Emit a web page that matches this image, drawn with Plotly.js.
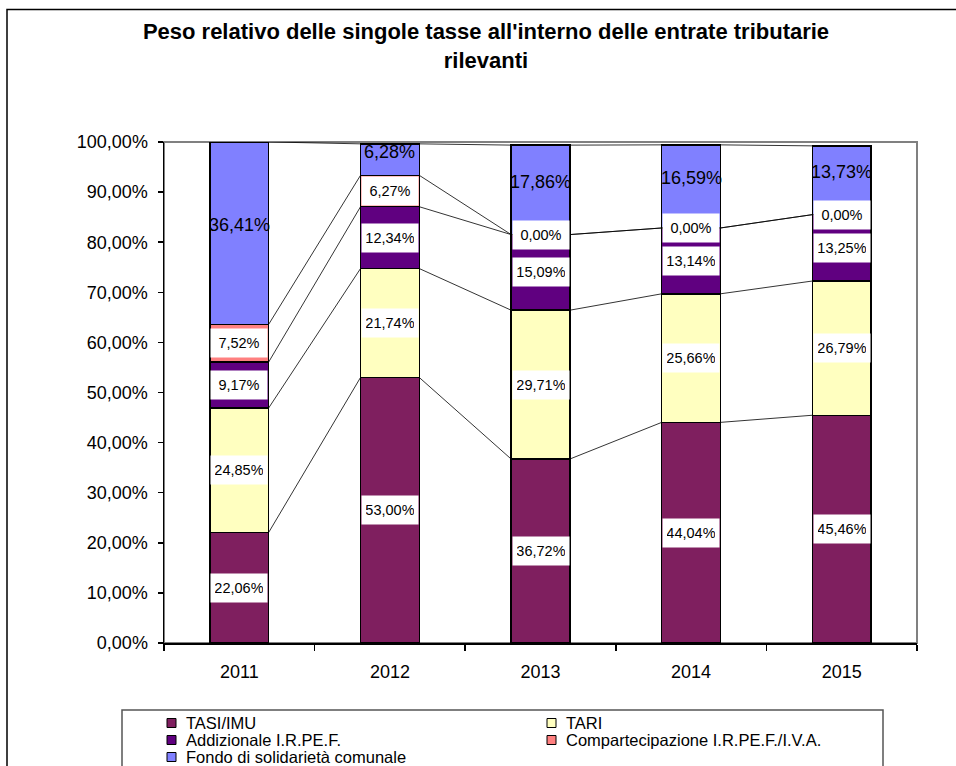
<!DOCTYPE html>
<html>
<head>
<meta charset="utf-8">
<script src="https://cdn.plot.ly/plotly-3.0.1.min.js"></script>
<style>html,body{margin:0;padding:0;background:#fff;}#chart{width:956px;height:766px;}</style>
</head>
<body>
<div id="chart"></div>
<script>
// ---- Data ----
const years = ['2011', '2012', '2013', '2014', '2015'];
const seriesNames = ['TASI/IMU', 'TARI', 'Addizionale I.R.PE.F.', 'Compartecipazione I.R.PE.F./I.V.A.', 'Fondo di solidarietà comunale'];
const tasiImu = [22.06, 53.00, 36.72, 44.04, 45.46];
const tari = [24.85, 21.74, 29.71, 25.66, 26.79];
const addizionale = [9.17, 12.34, 15.09, 13.14, 13.25];
const compartecipazione = [7.52, 6.27, 0.00, 0.00, 0.00];
const fondo = [36.41, 6.28, 17.86, 16.59, 13.73];
const yTickVals = [0, 10, 20, 30, 40, 50, 60, 70, 80, 90, 100];

const colors = ['#7F1F5F', '#FFFFC0', '#600080', '#FF8080', '#8080FF'];
const seriesValues = [tasiImu, tari, addizionale, compartecipazione, fondo];
const barWidth = 0.39;
const FONT = 'Liberation Sans, Arial, sans-serif';

// plot-area geometry (pixels) for placing the legend box
const M = {l: 164, r: 39, t: 142, b: 123};
const PW = 956 - M.l - M.r, PH = 766 - M.t - M.b;
const px2x = px => (px - M.l) / PW;
const py2y = py => (766 - M.b - py) / PH;

const fmt = v => v.toFixed(2).replace('.', ',') + '%';

const xs = years.map((_, i) => i);
const traces = [];
seriesValues.forEach((vals, s) => {
  traces.push({
    type: 'bar', x: xs, y: vals, name: seriesNames[s], width: barWidth,
    marker: {color: colors[s], line: {color: '#000', width: 1.5}},
    hoverinfo: 'skip', showlegend: false
  });
});

// cumulative tops
const cum = [];
seriesValues.forEach((vals, s) => {
  cum.push(vals.map((v, i) => v + (s > 0 ? cum[s - 1][i] : 0)));
});

// series lines (connect bar tops between adjacent categories)
cum.forEach(c => {
  const lx = [], ly = [];
  for (let i = 0; i < xs.length - 1; i++) {
    lx.push(xs[i] + barWidth / 2, xs[i + 1] - barWidth / 2, null);
    ly.push(c[i], c[i + 1], null);
  }
  traces.push({type: 'scatter', mode: 'lines', x: lx, y: ly, showlegend: false,
    line: {color: '#000', width: 0.8}, hoverinfo: 'skip'});
});

const annotations = [];
seriesValues.forEach((vals, s) => {
  vals.forEach((v, i) => {
    const base = s > 0 ? cum[s - 1][i] : 0;
    const mid = base + v / 2;
    if (s === 4) {
      annotations.push({x: xs[i], y: mid, xref: 'x', yref: 'y', text: fmt(v), showarrow: false,
        yshift: 8, font: {family: FONT, size: 18, color: '#000'}});
    } else {
      annotations.push({x: xs[i], y: mid, xref: 'x', yref: 'y', text: fmt(v), showarrow: false,
        bgcolor: '#fff', borderpad: 4, width: 48, height: 20,
        font: {family: FONT, size: 14.5, color: '#000'}});
    }
  });
});

// legend (two columns, as in the reference)
const shapes = [
  {type: 'rect', xref: 'paper', yref: 'paper', x0: 0, x1: 1, y0: 0, y1: 1, layer: 'below',
    line: {color: '#808080', width: 2}},
  {type: 'rect', xref: 'paper', yref: 'paper', x0: px2x(122), x1: px2x(883), y0: py2y(710), y1: py2y(800),
    line: {color: '#555', width: 1.5}},
  {type: 'rect', xref: 'paper', yref: 'paper', x0: px2x(7), x1: px2x(1000), y0: py2y(850), y1: py2y(9.5),
    line: {color: '#000', width: 1.5}}
];
const legCols = [167, 547];
const legRows = [723, 740, 757];
seriesNames.forEach((name, s) => {
  const col = s % 2, row = Math.floor(s / 2);
  const cx = legCols[col], cy = legRows[row];
  shapes.push({type: 'rect', xref: 'paper', yref: 'paper', x0: px2x(cx), x1: px2x(cx + 9),
    y0: py2y(cy + 4.5), y1: py2y(cy - 4.5), fillcolor: colors[s], line: {color: '#000', width: 1}});
  annotations.push({xref: 'paper', yref: 'paper', x: px2x(cx + 17), y: py2y(cy), xanchor: 'left', yanchor: 'middle',
    text: name, showarrow: false, font: {family: FONT, size: 16.5, color: '#000'}});
});

const layout = {
  width: 956, height: 766,
  margin: M,
  paper_bgcolor: '#fff', plot_bgcolor: '#fff',
  barmode: 'stack',
  font: {family: FONT, color: '#000'},
  title: {
    text: "<b>Peso relativo delle singole tasse all'interno delle entrate tributarie<br>rilevanti</b>",
    font: {family: FONT, size: 22, color: '#000'},
    x: 486 / 956, xref: 'container', xanchor: 'center', y: 1 - 39 / 766, yref: 'container', yanchor: 'middle'
  },
  xaxis: {
    range: [-0.5, 4.5], tickvals: xs, ticktext: years, ticks: '', showgrid: false, zeroline: false,
    showline: true, linecolor: '#000', linewidth: 1.5, ticklabelstandoff: 12,
    tickfont: {family: FONT, size: 18, color: '#000'},
    minor: {tickvals: [-0.5, 0.5, 1.5, 2.5, 3.5, 4.5], ticks: 'outside', ticklen: 6, tickcolor: '#000', tickwidth: 1.5, showgrid: false}
  },
  yaxis: {
    range: [0, 100], tickvals: yTickVals, ticktext: yTickVals.map(fmt), ticks: 'outside', ticklen: 5,
    tickcolor: '#000', tickwidth: 1.5, showgrid: false, zeroline: false, showline: true, linecolor: '#000', linewidth: 1.5,
    ticklabelstandoff: 6,
    tickfont: {family: FONT, size: 18, color: '#000'}
  },
  shapes: shapes,
  annotations: annotations,
  showlegend: false
};

Plotly.newPlot('chart', traces, layout, {displayModeBar: false, staticPlot: true});
</script>
</body>
</html>
